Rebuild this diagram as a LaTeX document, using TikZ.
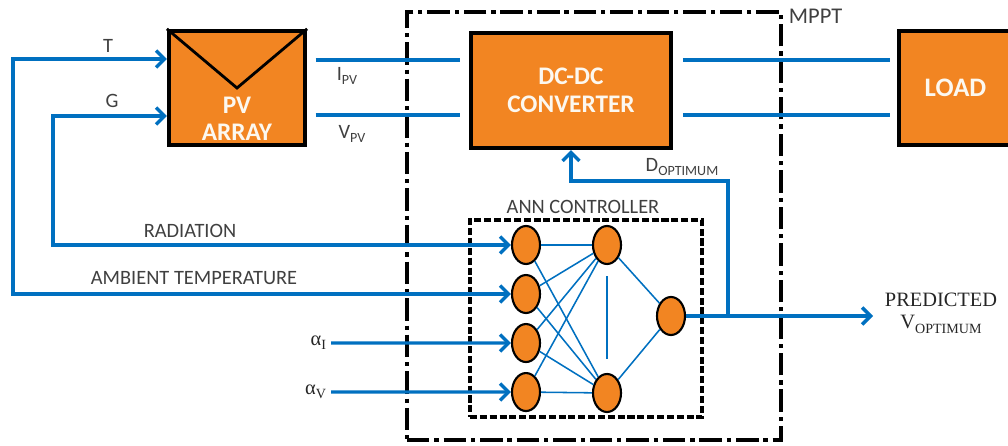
\documentclass[tikz,border=0pt]{standalone}
\usepackage{fontspec}
\setmainfont{Carlito}
\newfontfamily\serif{Liberation Serif}
\usetikzlibrary{shapes.geometric,arrows.meta}
\definecolor{pvorange}{RGB}{242,133,34}
\definecolor{flowblue}{RGB}{0,112,192}
\definecolor{labelgray}{RGB}{64,64,64}
\definecolor{boxwhite}{RGB}{252,248,240}
\newcommand{\lowsub}[1]{\raisebox{-0.45ex}{\fontsize{10}{10}\selectfont #1}}
\tikzset{flowtip/.tip={Straight Barb[length=6pt,width=12pt]}}

\begin{document}
\begin{tikzpicture}[x=0.025cm, y=-0.025cm, node distance=1.225cm,
  block/.style={rectangle, draw=black, line width=3pt, fill=pvorange, text=boxwhite, font=\bfseries\fontsize{18}{20}\selectfont, align=center},
  blocktext/.style={text=boxwhite, font=\bfseries\fontsize{18}{19.5}\selectfont, align=center},
  neuron/.style={ellipse, draw=black, line width=1.5pt, fill=pvorange, minimum width=0.7cm, minimum height=0.95cm, inner sep=0pt},
  frame/.style={draw=black, line width=3pt, dash pattern=on 16pt off 3.5pt on 3pt off 3.5pt},
  annframe/.style={draw=black, line width=2.5pt, dash pattern=on 5pt off 2pt},
  flow/.style={draw=flowblue, line width=2.4pt},
  link/.style={draw=flowblue, line width=1.1pt},
  lbl/.style={text=labelgray, font=\fontsize{14.5}{17}\selectfont},
  serif lbl/.style={text=black!85, font=\serif\fontsize{14.5}{16}\selectfont, align=center}]
  \useasboundingbox (0,0) rectangle (1008,446);

  \node[frame, minimum width=9.35cm, minimum height=10.7cm] (mppt) at (594,226) {};
  \node[lbl, anchor=west, font=\fontsize{16}{18}\selectfont] (mpptlbl) at (784,16) {MPPT};

  \node[block, minimum width=3.4cm, minimum height=2.85cm] (pv) at (237,88) {};
  \node[blocktext] (pvtext) at (237,119) {PV\\ARRAY};
  \draw[line width=2pt] (pv.north west) -- (pv.center) -- (pv.north east);
  \node[block, minimum width=5cm, minimum height=2.875cm] (dc) at (571,90.5) {DC-DC\\CONVERTER};
  \node[block, minimum width=2.825cm, minimum height=2.85cm, font=\bfseries\fontsize{19}{22}\selectfont] (load) at (955.5,88) {LOAD};

  \coordinate (tc) at (13,59);
  \coordinate (gc) at (53,116);
  \coordinate (ip) at (0,60);
  \coordinate (vp) at (0,115);

  \node[annframe, minimum width=5.8cm, minimum height=4.925cm] (ann) at (586,318.5) {};
  \node[lbl] (annlbl) at (583,207) {ANN CONTROLLER};
  \node[neuron] (n1) at (526,245) {};
  \node[neuron] (n2) [below of=n1] {};
  \node[neuron] (n3) [below of=n2] {};
  \node[neuron] (n4) [below of=n3] {};
  \node[neuron] (h1) at (607,245) {};
  \node[neuron] (h2) at (607,393) {};
  \node[neuron] (o) at (671,316) {};
  \foreach \i in {1,...,4} {
    \draw[link] (n\i) -- (h1);
    \draw[link] (n\i) -- (h2);
  }
  \draw[link] (h1) -- (o);
  \draw[link] (h2) -- (o);
  \draw[link, shorten <=8pt, shorten >=10pt] (h1) -- (h2);

  \draw[flow, flowtip-flowtip] (tc -| pv.west) -- (tc) |- (n2);
  \draw[flow, flowtip-flowtip] (gc -| pv.west) -- (gc) |- (n1);
  \node[lbl] (tlbl) at (108,46) {T};
  \node[lbl] (glbl) at (112,101) {G};
  \node[lbl] (radlbl) at (190,231) {RADIATION};
  \node[lbl] (amblbl) at (194,278) {AMBIENT TEMPERATURE};

  \draw[flow, shorten <=6pt, shorten >=6pt] (pv.east |- ip) -- (dc.west |- ip);
  \draw[flow, shorten <=6pt, shorten >=6pt] (pv.east |- vp) -- (dc.west |- vp);
  \node[lbl] (ipvlbl) at (347,76) {I\lowsub{PV}};
  \node[lbl] (vpvlbl) at (352,134) {V\lowsub{PV}};
  \draw[flow, shorten <=7pt, shorten >=5pt] (dc.east |- ip) -- (load.west |- ip);
  \draw[flow, shorten <=7pt, shorten >=5pt] (dc.east |- vp) -- (load.west |- vp);

  \node[serif lbl, anchor=east] (ai) at (331,343) {α\lowsub{I}};
  \node[serif lbl, anchor=east] (av) at (331,392) {α\lowsub{V}};
  \draw[flow, -flowtip] (ai) -- (n3);
  \draw[flow, -flowtip] (av) -- (n4);

  \coordinate (dsplit) at (728,316);
  \coordinate (dturn) at (728,181);
  \coordinate (vout) at (873,316);
  \draw[flow, -flowtip] (o) -- (vout);
  \draw[flow, -flowtip] (dsplit) -- (dturn) -| (dc.south);
  \node[lbl] (dlbl) at (682,167) {D\lowsub{OPTIMUM}};
  \node[serif lbl] (predlbl) at (941,313) {PREDICTED\\V\lowsub{OPTIMUM}};
\end{tikzpicture}
\end{document}
